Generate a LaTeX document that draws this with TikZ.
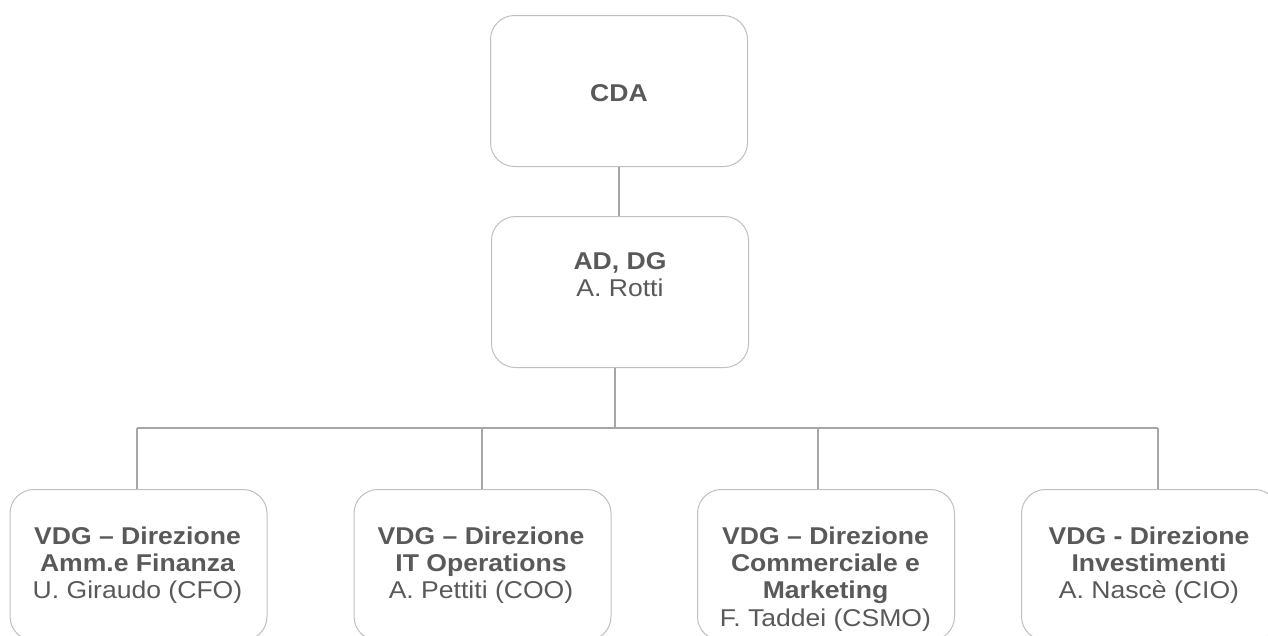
\documentclass[tikz,border=0pt]{standalone}
\usepackage{fontspec}
\setmainfont{Liberation Sans}[FakeStretch=1.093]
\definecolor{txtc}{HTML}{595959}
\definecolor{bordc}{HTML}{BFBFBF}
\definecolor{linec}{HTML}{A6A6A6}
\begin{document}
\begin{tikzpicture}[x=1pt,y=-1pt,
  box/.style={draw=bordc, line width=1pt, rounded corners=24pt, minimum width=257pt, minimum height=151pt, inner sep=0pt, anchor=north west},
  lbl/.style={text=txtc, font=\fontsize{24.3}{27.3}\selectfont, align=center, inner sep=0pt, anchor=north},
  link/.style={draw=linec, line width=1.3pt}]
\useasboundingbox (0,0) rectangle (1268,635);
\clip (0,0) rectangle (1268,635);
\node[box] (cda) at (490,15) {};
\node[box] (ad) at (491,216) {};
\node[box] (b1) at (9.5,489) {};
\node[box] (b2) at (353.5,489) {};
\node[box] (b3) at (697,489) {};
\node[box] (b4) at (1021,489) {};
\node[lbl] (tcda) at (619,84.3) {\textbf{CDA}};
\node[lbl] (tad) at (620,252.3) {\textbf{AD, DG}\\A. Rotti};
\node[lbl] (t1) at (137.5,526.3) {\textbf{VDG – Direzione}\\\textbf{Amm.e Finanza}\\U. Giraudo (CFO)};
\node[lbl] (t2) at (481,526.3) {\textbf{VDG – Direzione}\\\textbf{IT Operations}\\A. Pettiti (COO)};
\node[lbl] (t3) at (825.5,526.3) {\textbf{VDG – Direzione}\\\textbf{Commerciale e}\\\textbf{Marketing}\\F. Taddei (CSMO)};
\node[lbl] (t4) at (1149,526.3) {\textbf{VDG - Direzione}\\\textbf{Investimenti}\\A. Nascè (CIO)};
\coordinate (hub) at (615,428);
\coordinate (bus1) at (137,428);
\coordinate (bus2) at (482,428);
\coordinate (bus3) at (818,428);
\coordinate (bus4) at (1158,428);
\draw[link] (cda.south) -- (cda.south |- ad.north);
\draw[link] (hub |- ad.south) -- (hub);
\draw[link] (bus1) -- (bus4);
\draw[link] (bus1) -- (bus1 |- b1.north);
\draw[link] (bus2) -- (bus2 |- b2.north);
\draw[link] (bus3) -- (bus3 |- b3.north);
\draw[link] (bus4) -- (bus4 |- b4.north);
\end{tikzpicture}
\end{document}
